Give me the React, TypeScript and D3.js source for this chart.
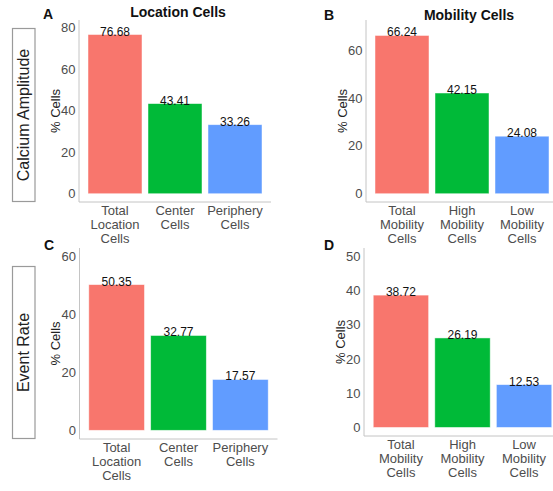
import React from 'react';
import * as d3 from 'd3';

const locationCategories = ['Total\nLocation\nCells', 'Center\nCells', 'Periphery\nCells'];
const mobilityCategories = ['Total\nMobility\nCells', 'High\nMobility\nCells', 'Low\nMobility\nCells'];

const ampLocationValues = [76.68, 43.41, 33.26];
const ampMobilityValues = [66.24, 42.15, 24.08];
const rateLocationValues = [50.35, 32.77, 17.57];
const rateMobilityValues = [38.72, 26.19, 12.53];

const ticksA = [0, 20, 40, 60, 80];
const ticksB = [0, 20, 40, 60];
const ticksC = [0, 20, 40, 60];
const ticksD = [0, 10, 20, 30, 40, 50];

const barColors = ['#F8766D', '#00BA38', '#619CFF'];
const font = 'Liberation Sans, Arial, Helvetica, sans-serif';

// panel layout (pixel box of each plot panel)
const panels = [
  { letter: 'A', title: 'Location Cells', cats: locationCategories, values: ampLocationValues, ticks: ticksA,
    limit: 79.68, left: 79, right: 271, top: 20, bottom: 202, letterX: 43, letterY: 19, titleX: 178, titleY: 16.5 },
  { letter: 'B', title: 'Mobility Cells', cats: mobilityCategories, values: ampMobilityValues, ticks: ticksB,
    limit: 69.24, left: 366, right: 558, top: 20, bottom: 202, letterX: 324, letterY: 20, titleX: 469, titleY: 20 },
  { letter: 'C', title: '', cats: locationCategories, values: rateLocationValues, ticks: ticksC,
    limit: 60, left: 79.5, right: 277.5, top: 248, bottom: 439, letterX: 44, letterY: 250, titleX: 0, titleY: 0 },
  { letter: 'D', title: '', cats: mobilityCategories, values: rateMobilityValues, ticks: ticksD,
    limit: 50, left: 364, right: 561, top: 248, bottom: 436, letterX: 324, letterY: 250, titleX: 0, titleY: 0 },
];

const strips = [
  { label: 'Calcium Amplitude', x: 12.5, y: 28.5, w: 22.5, h: 173 },
  { label: 'Event Rate', x: 12.5, y: 266.5, w: 22.5, h: 172 },
];

function Panel({ p }) {
  const pad = p.limit * 0.05;
  const y = d3.scaleLinear().domain([-pad, p.limit + pad]).range([p.bottom, p.top]);
  const x = d3.scaleBand().domain(p.cats).range([p.left, p.right]).paddingInner(0.1).paddingOuter(0.15);
  const midY = (p.top + p.bottom) / 2;

  return (
    <g>
      <text x={p.letterX} y={p.letterY} fontSize={14} fontWeight="bold" fill="#111">{p.letter}</text>
      {p.title && (
        <text x={p.titleX} y={p.titleY} fontSize={14} fontWeight="bold" textAnchor="middle" fill="#111">{p.title}</text>
      )}
      {p.cats.map((c, i) => (
        <rect key={c} x={x(c)} width={x.bandwidth()} y={y(p.values[i])} height={y(0) - y(p.values[i])}
          fill={barColors[i]} stroke="#ffffff" strokeOpacity={0.6} strokeWidth={0.8} />
      ))}
      {p.cats.map((c, i) => (
        <text key={c} x={x(c) + x.bandwidth() / 2} y={y(p.values[i]) + 1} fontSize={12} textAnchor="middle" fill="#111">
          {p.values[i].toFixed(2)}
        </text>
      ))}
      <line x1={p.left} x2={p.left} y1={p.top} y2={p.bottom} stroke="#c4c4c4" strokeWidth={1} />
      <line x1={p.left} x2={p.right} y1={p.bottom} y2={p.bottom} stroke="#c4c4c4" strokeWidth={1} />
      {p.ticks.map(t => (
        <text key={t} x={p.left - 3.5} y={y(t)} dy="0.35em" fontSize={13} textAnchor="end" fill="#4d4d4d">{t}</text>
      ))}
      {p.cats.map(c => (
        <text key={c} x={x(c) + x.bandwidth() / 2} y={p.bottom + 12.5} fontSize={13} textAnchor="middle" fill="#4d4d4d">
          {c.split('\n').map((line, j) => (
            <tspan key={j} x={x(c) + x.bandwidth() / 2} dy={j === 0 ? 0 : 14}>{line}</tspan>
          ))}
        </text>
      ))}
      <text transform={`translate(${p.left - 24},${midY}) rotate(-90)`} dy="0.35em" fontSize={13}
        textAnchor="middle" fill="#222">% Cells</text>
    </g>
  );
}

export default function App() {
  return (
    <svg width={553} height={491} style={{ position: 'absolute', left: 0, top: 0, background: '#fff' }}
      fontFamily={font}>
      <rect width={553} height={491} fill="#fff" />
      {strips.map(s => (
        <g key={s.label}>
          <rect x={s.x} y={s.y} width={s.w} height={s.h} fill="#fff" stroke="#9a9a9a" strokeWidth={1.2} />
          <text transform={`translate(${s.x + s.w / 2},${s.y + s.h / 2}) rotate(-90)`} dy="0.35em" fontSize={16}
            textAnchor="middle" fill="#222">{s.label}</text>
        </g>
      ))}
      {panels.map(p => <Panel key={p.letter} p={p} />)}
    </svg>
  );
}
